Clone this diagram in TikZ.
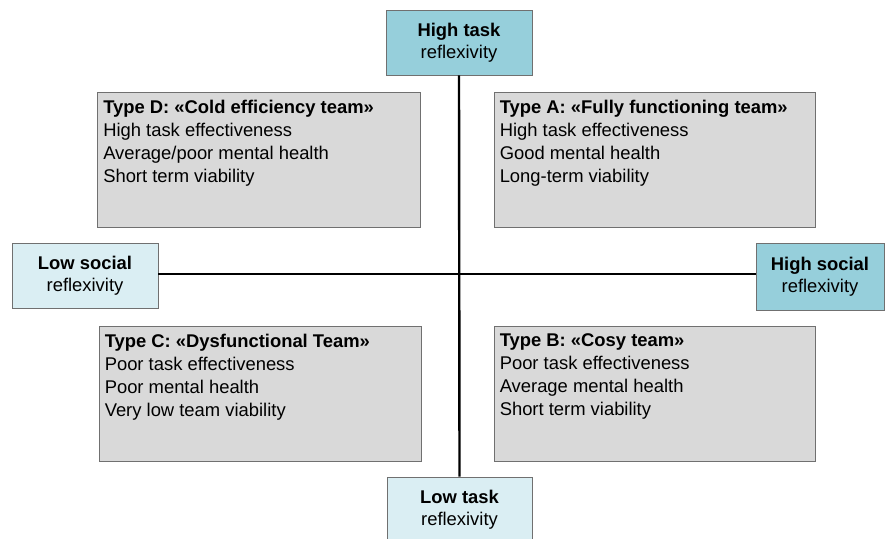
\documentclass[tikz,border=0pt]{standalone}
\usepackage{fontspec}
\setmainfont{Liberation Sans}
\definecolor{aquamid}{HTML}{96CFDB}
\definecolor{aqualight}{HTML}{DAEEF3}
\definecolor{quadgray}{HTML}{D9D9D9}
\definecolor{edgegray}{HTML}{707070}
\tikzset{
  labelbox/.style={draw=edgegray, line width=0.9pt, align=center,
    font=\fontsize{18.4}{22.5}\selectfont, inner sep=0pt},
  hibox/.style={labelbox, fill=aquamid},
  lobox/.style={labelbox, fill=aqualight},
  quadbox/.style={draw=edgegray, line width=0.9pt, fill=quadgray,
    minimum width=#1, minimum height=135pt, inner sep=0pt},
  quadtext/.style={anchor=north west, align=left, inner sep=0pt,
    font=\fontsize{18.4}{23}\selectfont},
  axis/.style={line width=2.4pt, black}
}
\begin{document}
\begin{tikzpicture}[x=1pt,y=-1pt]
  \useasboundingbox (0,0) rectangle (888,538);
  \begin{scope}
    \clip (0,0) rectangle (888,538);

    % quadrant boxes
    \node[quadbox=323pt] (D) at (259,159.5) {};
    \node[quadbox=321pt] (A) at (654.5,159.5) {};
    \node[quadbox=322pt] (C) at (260,393.5) {};
    \node[quadbox=321pt] (B) at (654.5,393.5) {};

    \node[quadtext] (Dt) at ([shift={(6,8)}]D.north west)
      {\textbf{Type D: «Cold efficiency team»}\\High task effectiveness\\Average/poor mental health\\Short term viability};
    \node[quadtext] (At) at ([shift={(6,8)}]A.north west)
      {\textbf{Type A: «Fully functioning team»}\\High task effectiveness\\Good mental health\\Long-term viability};
    \node[quadtext] (Ct) at ([shift={(6,8)}]C.north west)
      {\textbf{Type C: «Dysfunctional Team»}\\Poor task effectiveness\\Poor mental health\\Very low team viability};
    \node[quadtext] (Bt) at ([shift={(6,8)}]B.north west)
      {\textbf{Type B: «Cosy team»}\\Poor task effectiveness\\Average mental health\\Short term viability};

    % axis end labels
    \node[hibox, minimum width=146pt, minimum height=65pt] (top) at (459,42.5)
      {\textbf{High task}\\reflexivity};
    \node[lobox, minimum width=145pt, minimum height=65pt] (bottom) at (459.5,509.5)
      {\textbf{Low task}\\reflexivity};
    \node[lobox, minimum width=146pt, minimum height=65pt] (left) at (85,275.5)
      {\textbf{Low social}\\reflexivity};
    \node[hibox, minimum width=128pt, minimum height=67pt] (right) at (820,276.5)
      {\textbf{High social}\\reflexivity};

    % axes
    \draw[axis] (top.south) -- (bottom.north);
    \draw[axis] (left.east |- 0,274) -- (right.west |- 0,274);
  \end{scope}
\end{tikzpicture}
\end{document}
